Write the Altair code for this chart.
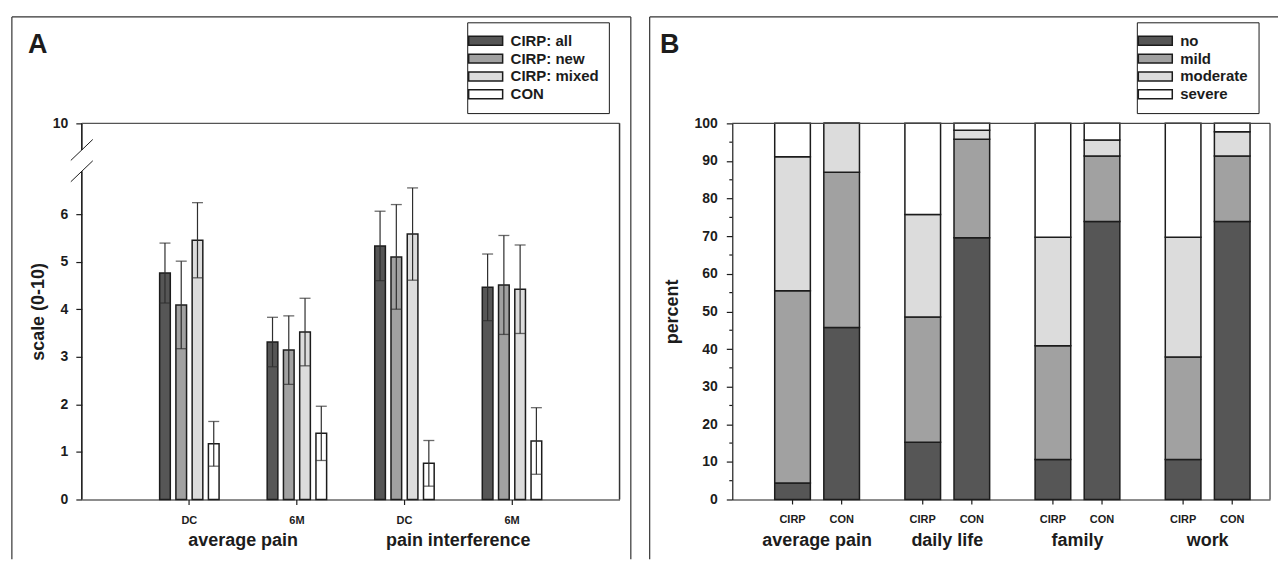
import altair as alt
import pandas as pd

FONT = "Liberation Sans"
INK = "#1c1c1c"
LINE = "#2e2e2e"

# ---------------- Panel A data ----------------
a_measure = ["average pain", "average pain", "pain interference", "pain interference"]
a_time = ["DC", "6M", "DC", "6M"]
a_series = ["CIRP: all", "CIRP: new", "CIRP: mixed", "CON"]
a_colors = ["#565656", "#a1a1a1", "#dcdcdc", "#ffffff"]
a_mean_all = [4.76, 3.31, 5.33, 4.46]
a_mean_new = [4.09, 3.14, 5.10, 4.51]
a_mean_mixed = [5.45, 3.52, 5.58, 4.42]
a_mean_con = [1.17, 1.39, 0.76, 1.23]
a_sd_all = [0.63, 0.52, 0.73, 0.70]
a_sd_new = [0.92, 0.72, 1.10, 1.04]
a_sd_mixed = [0.79, 0.71, 0.97, 0.93]
a_sd_con = [0.47, 0.57, 0.48, 0.70]
a_yticks = [0, 1, 2, 3, 4, 5, 6, 10]
a_break = [6.9, 8.28]          # axis break: lower segment ends, upper segment starts

# ---------------- Panel B data ----------------
b_domains = ["average pain", "daily life", "family", "work"]
b_groups = ["CIRP", "CON"]
b_levels = ["no", "mild", "moderate", "severe"]
b_colors = ["#565656", "#a1a1a1", "#dcdcdc", "#ffffff"]
b_cirp_avg = [4.4, 51.1, 35.6, 8.9]
b_cirp_daily = [15.2, 33.3, 27.3, 24.2]
b_cirp_family = [10.6, 30.3, 28.8, 30.3]
b_cirp_work = [10.6, 27.3, 31.8, 30.3]
b_con_avg = [45.7, 41.3, 13.0, 0.0]
b_con_daily = [69.6, 26.2, 2.4, 1.8]
b_con_family = [73.9, 17.4, 4.3, 4.4]
b_con_work = [73.9, 17.4, 6.5, 2.2]
b_yticks = list(range(0, 101, 10))
b_minor = list(range(5, 100, 10))

# ---------------- layout ----------------
W, H = 539, 377
BREAK_PX = 48
STEP_A = W / 5

# ---------------- tables ----------------
a_keys = [f"{m}|{t}" for m, t in zip(a_measure, a_time)]
rows = []
for s, ml, sl in zip(a_series,
                     [a_mean_all, a_mean_new, a_mean_mixed, a_mean_con],
                     [a_sd_all, a_sd_new, a_sd_mixed, a_sd_con]):
    for k, m, sd in zip(a_keys, ml, sl):
        rows.append({"key": k, "series": s, "mean": m, "lo": m - sd, "hi": m + sd})
df_a = pd.DataFrame(rows)
df_a_titles = pd.DataFrame({"key": [a_keys[0], a_keys[2]], "label": [a_measure[0], a_measure[2]]})
df_break = pd.DataFrame({"v": a_break})

cirp = [b_cirp_avg, b_cirp_daily, b_cirp_family, b_cirp_work]
con = [b_con_avg, b_con_daily, b_con_family, b_con_work]
brows = []
for di, d in enumerate(b_domains):
    for g, lists in zip(b_groups, [cirp, con]):
        for li, lv in enumerate(b_levels):
            brows.append({"domain": d, "group": g, "level": lv, "ord": li, "pct": lists[di][li]})
df_b = pd.DataFrame(brows)
df_sub = pd.DataFrame([{"domain": d, "group": g} for d in b_domains for g in b_groups])
df_minor = pd.DataFrame({"pct": b_minor})
df_letter_a = pd.DataFrame({"t": ["A"]})
df_letter_b = pd.DataFrame({"t": ["B"]})

legend_common = dict(
    orient="none", direction="vertical", title=None,
    strokeColor=INK, fillColor="white", padding=10, cornerRadius=0,
    symbolType="M-2.27,-0.6L2.27,-0.6L2.27,0.6L-2.27,0.6Z", symbolSize=225,
    symbolStrokeColor=INK, symbolStrokeWidth=1.5,
    labelFont=FONT, labelFontSize=15, labelFontWeight="bold", labelColor=INK,
    labelOffset=16.5, rowPadding=0.9,
)

# ---------------- Panel A ----------------
xA = alt.X("key:N", scale=alt.Scale(domain=a_keys, paddingInner=0.145, paddingOuter=0.5725),
           axis=alt.Axis(title=None, labelExpr="split(datum.label, '|')[1]", labelAngle=0,
                         labelFontSize=11, labelFontWeight="bold", tickSize=5, labelPadding=10))
xoA = alt.XOffset("series:N", scale=alt.Scale(domain=a_series, paddingInner=0.344, paddingOuter=1))
yA_scale = alt.Scale(domain=[0, a_break[0], 10], range=[H, BREAK_PX, 0], nice=False)
yA_axis = alt.Axis(values=a_yticks, domain=False, title="scale (0-10)", tickSize=6, labelPadding=8,
                   labelFontSize=14, labelFontWeight="bold", titleFontSize=18, titleFontWeight="bold",
                   titlePadding=5, labelOverlap=False)

barsA = alt.Chart(df_a).mark_bar(stroke=INK, strokeWidth=1.5).encode(
    x=xA, xOffset=xoA,
    y=alt.Y("mean:Q", scale=yA_scale, axis=yA_axis, title="scale (0-10)"),
    color=alt.Color("series:N", scale=alt.Scale(domain=a_series, range=a_colors),
                    legend=alt.Legend(legendX=386.3, legendY=-101.3, **legend_common)),
)
errA = alt.Chart(df_a).mark_rule(color=LINE, strokeWidth=1.2).encode(
    x=xA, xOffset=xoA, y=alt.Y("lo:Q", title="scale (0-10)"), y2="hi:Q")
capHiA = alt.Chart(df_a).mark_tick(color=LINE, thickness=1.3, size=11).encode(
    x=xA, xOffset=xoA, y=alt.Y("hi:Q", title="scale (0-10)"))
capLoA = alt.Chart(df_a).mark_tick(color=LINE, thickness=1.3, size=11).encode(
    x=xA, xOffset=xoA, y=alt.Y("lo:Q", title="scale (0-10)"))
titlesA = alt.Chart(df_a_titles).mark_text(font=FONT, fontSize=18, fontWeight="bold", color=INK,
                                           baseline="middle", dx=STEP_A / 2).encode(
    x=alt.X("key:N"), y=alt.value(H + 42), text="label:N")
axisLowA = alt.Chart(df_break).mark_rule(color=INK, strokeWidth=1.2).encode(
    x=alt.value(0), y=alt.datum(0), y2=alt.datum(a_break[0]))
axisHighA = alt.Chart(df_break).mark_rule(color=INK, strokeWidth=1.2).encode(
    x=alt.value(0), y=alt.datum(a_break[1]), y2=alt.datum(10))
slashA = alt.Chart(df_break).mark_rule(color=INK, strokeWidth=1, yOffset=10.5, y2Offset=-10.5).encode(
    x=alt.value(-11), x2=alt.value(11), y=alt.Y("v:Q", title="scale (0-10)"), y2="v:Q")
topA = alt.Chart(df_letter_a).mark_rule(color="#555", strokeWidth=1.2).encode(
    x=alt.value(0), x2=alt.value(W), y=alt.value(0))
rightA = alt.Chart(df_letter_a).mark_rule(color="#333", strokeWidth=1.5).encode(
    x=alt.value(W), y=alt.value(0), y2=alt.value(H))
frameA = alt.Chart(df_letter_a).mark_rule(color="#333", strokeWidth=1.2)
frameA_l = frameA.encode(x=alt.value(-70.1), y=alt.value(-106.7), y2=alt.value(437))
frameA_t = frameA.encode(x=alt.value(-70.1), x2=alt.value(550.3), y=alt.value(-106.7))
frameA_r = frameA.encode(x=alt.value(550.3), y=alt.value(-106.7), y2=alt.value(437))
letterA = alt.Chart(df_letter_a).mark_text(font=FONT, fontSize=27, fontWeight="bold", color=INK,
                                           align="left", baseline="alphabetic").encode(
    x=alt.value(-54), y=alt.value(-70.8), text="t:N")

chartA = alt.layer(barsA, errA, capHiA, capLoA, titlesA, axisLowA, axisHighA, slashA,
                   topA, rightA, frameA_l, frameA_t, frameA_r, letterA).properties(width=W, height=H)

# ---------------- Panel B ----------------
xB = alt.X("domain:N", scale=alt.Scale(domain=b_domains, paddingInner=0.042, paddingOuter=0.0862, align=1),
           axis=alt.Axis(title=None, ticks=False, tickSize=0, labelAngle=0, labelFontSize=18,
                         labelFontWeight="bold", labelPadding=32))
xoB = alt.XOffset("group:N", scale=alt.Scale(domain=b_groups, paddingInner=0.274, paddingOuter=0.407))
yB_scale = alt.Scale(domain=[0, 100], nice=False, zero=True)
yB_axis = alt.Axis(values=b_yticks, title="percent", tickSize=6, labelPadding=9, labelFontSize=14,
                   labelFontWeight="bold", titleFontSize=18, titleFontWeight="bold", titlePadding=13,
                   labelOverlap=False, labelSeparation=0)

barsB = alt.Chart(df_b).mark_bar(stroke=INK, strokeWidth=1.5).encode(
    x=xB, xOffset=xoB,
    y=alt.Y("pct:Q", stack="zero", scale=yB_scale, axis=yB_axis, title="percent"),
    color=alt.Color("level:N", scale=alt.Scale(domain=b_levels, range=b_colors),
                    legend=alt.Legend(legendX=405.5, legendY=-101.3, **legend_common)),
    order=alt.Order("ord:Q", sort="ascending"),
)
subTicksB = alt.Chart(df_sub).mark_rule(color=INK, strokeWidth=1.2).encode(
    x=xB, xOffset=xoB, y=alt.value(H), y2=alt.value(H + 5))
subLabelsB = alt.Chart(df_sub).mark_text(font=FONT, fontSize=11, fontWeight="bold", color=INK,
                                         baseline="middle").encode(
    x=xB, xOffset=xoB, y=alt.value(H + 21), text="group:N")
minorB = alt.Chart(df_minor).mark_rule(color=INK, strokeWidth=1.2).encode(
    x=alt.value(-3), x2=alt.value(0), y=alt.Y("pct:Q", scale=yB_scale, axis=yB_axis, title="percent"))
topB = alt.Chart(df_letter_b).mark_rule(color="#444", strokeWidth=1.2).encode(
    x=alt.value(0), x2=alt.value(W), y=alt.value(0))
rightB = alt.Chart(df_letter_b).mark_rule(color="#333", strokeWidth=1.2).encode(
    x=alt.value(W), y=alt.value(0), y2=alt.value(H))
frameB = alt.Chart(df_letter_b).mark_rule(color="#333", strokeWidth=1.2)
frameB_l = frameB.encode(x=alt.value(-82.8), y=alt.value(-106.7), y2=alt.value(437))
frameB_t = frameB.encode(x=alt.value(-82.8), x2=alt.value(547), y=alt.value(-106.7))
letterB = alt.Chart(df_letter_b).mark_text(font=FONT, fontSize=27, fontWeight="bold", color=INK,
                                           align="left", baseline="alphabetic").encode(
    x=alt.value(-72.5), y=alt.value(-70.8), text="t:N")

chartB = alt.layer(barsB, subTicksB, subLabelsB, minorB, topB, rightB,
                   frameB_l, frameB_t, letterB).properties(width=W, height=H)

chart = alt.hconcat(chartA, chartB, spacing=16).resolve_scale(
    color="independent", xOffset="independent", x="independent", y="independent"
).properties(
    padding={"left": 10, "top": 15, "right": 0, "bottom": 0}, background="white"
).configure_view(stroke="transparent").configure_axis(
    labelFont=FONT, titleFont=FONT, labelColor=INK, titleColor=INK,
    tickColor=INK, domainColor=INK, domainWidth=1.2, tickWidth=1.2, grid=False,
)

chart.save("out.html", embed_options={"renderer": "svg", "actions": False})
